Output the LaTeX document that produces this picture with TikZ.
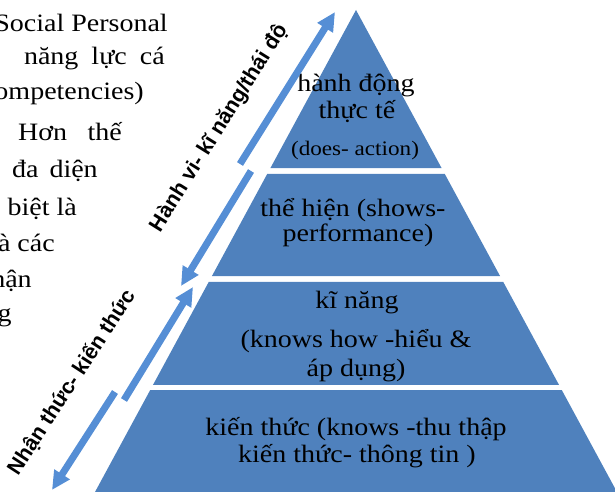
\documentclass[tikz,border=0pt]{standalone}
\usepackage{fontspec}
\setmainfont{Liberation Serif}[FakeStretch=1.12]
\newfontfamily\labelfont{Liberation Sans}
\usepackage{xcolor}
\usepackage{tikz}
\usetikzlibrary{arrows.meta,calc,positioning}

\definecolor{pyrblue}{RGB}{79,129,189}
\definecolor{arrblue}{RGB}{85,142,213}

\tikzset{
  band/.style={fill=pyrblue, draw=none},
  bandtext/.style={font=\fontsize{18.75}{22}\selectfont, anchor=base, inner sep=0pt},
  smalltext/.style={font=\fontsize{15.5}{18}\selectfont, anchor=base, inner sep=0pt},
  sidetext/.style={font=\fontsize{18.75}{22}\selectfont, anchor=base east, inner sep=0pt},
  levelarrow/.style={draw=arrblue, line width=5.25pt, -{Triangle[length=14pt,width=13pt]}},
  arrowlabel/.style={font=\fontsize{16}{19}\selectfont\labelfont\bfseries, anchor=base, inner sep=0pt}
}

\begin{document}
\begin{tikzpicture}[x=0.75pt, y=-0.75pt]
        \clip (0,0) rectangle (615,492);

        % pyramid
        \coordinate (apex) at (356,10);
        \coordinate (baseL) at (95,492);
        \coordinate (baseR) at (617,492);
        \foreach \t/\b in {0/0.3278, 0.3402/0.5519, 0.5643/0.7780, 0.7884/1.05}
          \fill[band] ($(apex)!\t!(baseL)$) -- ($(apex)!\b!(baseL)$)
                   -- ($(apex)!\b!(baseR)$) -- ($(apex)!\t!(baseR)$) -- cycle;

        % levels
        \node[bandtext] (act1) at (356,92) {hành động};
        \node[bandtext] (act2) at (357,118) {thực tế};
        \node[smalltext] (act3) at (355,156) {(does- action)};

        \node[bandtext] (perf1) at (353,217) {thể hiện (shows-};
        \node[bandtext] (perf2) at (358,242) {performance)};

        \node[bandtext] (skill1) at (357,308) {kĩ năng};
        \node[bandtext] (skill2) at (356,347) {(knows how -hiểu \&};
        \node[bandtext] (skill3) at (356,376) {áp dụng)};

        \node[bandtext] (know1) at (356,435) {kiến thức (knows -thu thập};
        \node[bandtext] (know2) at (357,462) {kiến thức- thông tin )};

        % text beside the pyramid
        \node[sidetext] (p1) at (168,32) {Social Personal};
        \node[sidetext] (p2) at (165,65) {năng\hspace{4.5pt} lực\hspace{4.5pt} cá};
        \node[sidetext] (p3) at (144,100) {competencies)};
        \node[sidetext] (p4) at (122,141) {Hơn\hspace{10pt} thế};
        \node[sidetext] (p5) at (98,178) {đa\hspace{3pt} diện};
        \node[sidetext] (p6) at (77,215) {biệt là};
        \node[sidetext] (p7) at (55,252) {và các};
        \node[sidetext] (p8) at (32,287) {nhận};
        \node[sidetext] (p9) at (12,321) {g};

        % arrows along the left side
        \coordinate (hvBack) at (240,164);
        \coordinate (hvTip) at (335,12);
        \coordinate (hvFrom) at (251,171);
        \coordinate (hvDown) at (181,286);
        \coordinate (ntBack) at (124,400);
        \coordinate (ntTip) at (193,287);
        \coordinate (ntFrom) at (115,392);
        \coordinate (ntDown) at (52,490);

        \draw[levelarrow] (hvBack) -- (hvTip);
        \draw[levelarrow] (hvFrom) -- (hvDown);
        \draw[levelarrow] (ntBack) -- (ntTip);
        \draw[levelarrow] (ntFrom) -- (ntDown);

        \node[arrowlabel, rotate=58] (hv) at (224,131) {Hành vi- kĩ năng/thái độ};
        \node[arrowlabel, rotate=57] (nt) at (77,386) {Nhận thức- kiến thức};
  \end{tikzpicture}
\end{document}
